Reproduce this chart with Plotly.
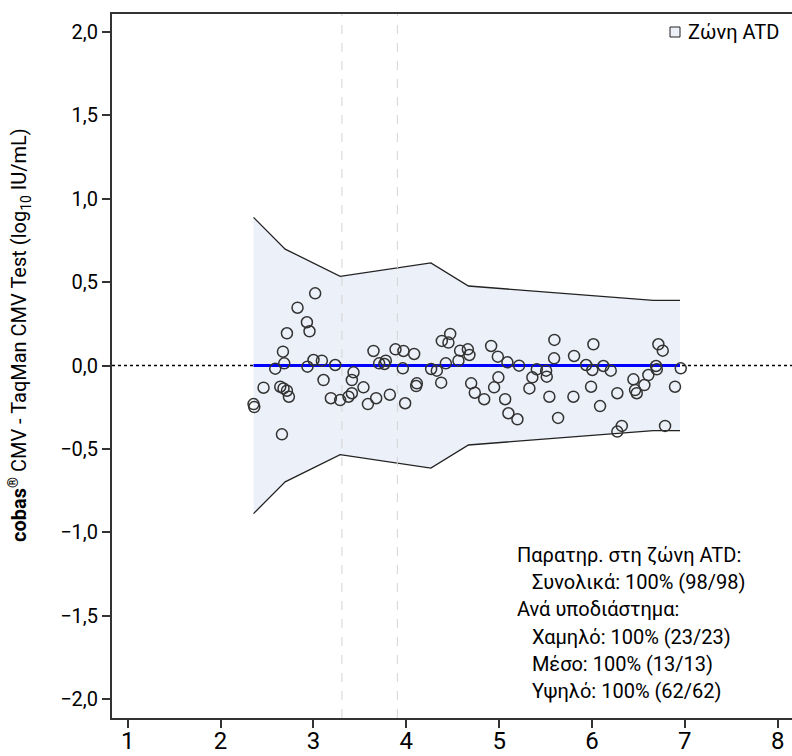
import plotly.graph_objects as go

# ---------------- data ----------------
# Low sub-range (Χαμηλό)
low_x = [3.019, 2.829, 2.930, 2.958, 2.715, 2.672, 2.686, 2.589, 2.936, 3.001,
         3.091, 3.235, 3.109, 2.463, 2.643, 2.678, 2.715, 2.736, 2.355, 2.363,
         2.661, 3.188, 3.288]
low_y = [0.432, 0.346, 0.259, 0.205, 0.193, 0.083, 0.013, -0.019, -0.007, 0.033,
         0.029, 0.003, -0.087, -0.133, -0.127, -0.137, -0.151, -0.187, -0.231, -0.249,
         -0.412, -0.196, -0.207]

# Medium sub-range (Μέσο)
mid_x = [3.378, 3.414, 3.414, 3.432, 3.539, 3.587, 3.647, 3.676, 3.708, 3.765,
         3.780, 3.823, 3.884]
mid_y = [-0.187, -0.166, -0.087, -0.041, -0.131, -0.231, 0.087, -0.196, 0.013, 0.009,
         0.029, -0.175, 0.097]

# High sub-range (Υψηλό)
high_x = [3.970, 4.085, 3.963, 3.988, 4.114, 4.107, 4.268, 4.329, 4.376, 4.426,
          4.383, 4.454, 4.473, 4.580, 4.562, 4.663, 4.680, 4.699, 4.738, 4.839,
          4.914, 4.986, 5.089, 5.215, 4.992, 4.946, 5.065, 5.100, 5.197, 5.326,
          5.358, 5.406, 5.506, 5.513, 5.595, 5.592, 5.541, 5.635, 5.807, 5.800,
          5.937, 6.015, 6.004, 6.123, 6.202, 5.990, 6.087, 6.273, 6.321, 6.273,
          6.446, 6.464, 6.482, 6.564, 6.607, 6.690, 6.698, 6.715, 6.762, 6.787,
          6.894, 6.956]
high_y = [0.087, 0.069, -0.017, -0.226, -0.107, -0.123, -0.021, -0.031, -0.103, 0.013,
          0.147, 0.137, 0.189, 0.089, 0.029, 0.097, 0.063, -0.107, -0.163, -0.202,
          0.117, 0.053, 0.019, -0.001, -0.071, -0.131, -0.202, -0.286, -0.322, -0.137,
          -0.071, -0.023, -0.031, -0.067, 0.153, 0.043, -0.187, -0.314, 0.057, -0.187,
          0.003, 0.127, -0.027, -0.003, -0.031, -0.127, -0.243, -0.166, -0.362, -0.396,
          -0.083, -0.147, -0.166, -0.117, -0.057, -0.003, -0.023, 0.127, 0.089, -0.362,
          -0.127, -0.017]

# ATD zone boundaries
zone_x = [2.355, 2.696, 3.288, 4.265, 4.670, 6.661, 6.948]
zone_upper = [0.887, 0.697, 0.534, 0.614, 0.476, 0.390, 0.390]
zone_lower = [-0.887, -0.697, -0.534, -0.614, -0.476, -0.390, -0.390]

# mean bias line (0)
bias_x = [2.355, 6.948]
bias_y = [0.0, 0.0]

# sub-range boundaries (vertical dashed lines)
range_bounds = [3.307, 3.904]

x_range = [0.831, 8.154]
y_range = [-2.111, 2.105]
x_ticks = [1, 2, 3, 4, 5, 6, 7, 8]
y_ticks = [-2.0, -1.5, -1.0, -0.5, 0.0, 0.5, 1.0, 1.5, 2.0]

legend_label = "Ζώνη ATD"
y_title = "<b>cobas</b><sup>®</sup> CMV - TaqMan CMV Test (log<sub>10</sub> IU/mL)"
stats_lines = [
    "Παρατηρ. στη ζώνη ATD:",
    "\u00a0\u00a0\u00a0Συνολικά: 100% (98/98)",
    "Ανά υποδιάστημα:",
    "\u00a0\u00a0\u00a0Χαμηλό: 100% (23/23)",
    "\u00a0\u00a0\u00a0Μέσο: 100% (13/13)",
    "\u00a0\u00a0\u00a0Υψηλό: 100% (62/62)",
]

FONT = "Roboto, 'Noto Sans', sans-serif"
ZONE_FILL = "rgb(236,240,248)"
EDGE = "#222222"

W, H = 792, 756
M_L, M_R, M_T, M_B = 112, 0, 14, 38
PLOT_H = H - M_T - M_B

fig = go.Figure()

# zone fill
fig.add_trace(go.Scatter(
    x=zone_x + zone_x[::-1], y=zone_upper + zone_lower[::-1],
    fill="toself", fillcolor=ZONE_FILL, mode="none", hoverinfo="skip",
    showlegend=False))
# zone edges
fig.add_trace(go.Scatter(x=zone_x, y=zone_upper, mode="lines",
                         line=dict(color=EDGE, width=1.3), showlegend=False))
fig.add_trace(go.Scatter(x=zone_x, y=zone_lower, mode="lines",
                         line=dict(color=EDGE, width=1.3), showlegend=False))
# sub-range boundaries
for b in range_bounds:
    fig.add_trace(go.Scatter(x=[b, b], y=y_range, mode="lines",
                             line=dict(color="#d4d4d4", width=1, dash="dash"),
                             showlegend=False, hoverinfo="skip"))
# bias line
fig.add_trace(go.Scatter(x=bias_x, y=bias_y, mode="lines",
                         line=dict(color="rgb(0,0,255)", width=3),
                         showlegend=False))
# observations
fig.add_trace(go.Scatter(
    x=low_x + mid_x + high_x, y=low_y + mid_y + high_y, mode="markers",
    marker=dict(symbol="circle-open", size=11, color="#333333",
                line=dict(width=1.5, color="#333333")),
    showlegend=False))

# dotted zero line
fig.add_shape(type="line", xref="paper", yref="y", x0=0, x1=1, y0=0, y1=0,
              line=dict(color="black", width=1.3, dash="dot"), layer="below")


def py2paper(py):
    return (H - M_B - py) / PLOT_H


def px2paper(px):
    return (px - M_L) / (W - M_L - M_R)


# legend glyph and label
fig.add_shape(type="rect", xref="paper", yref="paper",
              x0=px2paper(670), x1=px2paper(680), y0=py2paper(37), y1=py2paper(27),
              fillcolor=ZONE_FILL, line=dict(color=EDGE, width=1))
fig.add_annotation(text=legend_label, xref="paper", yref="paper",
                   x=px2paper(686), y=py2paper(32), xanchor="left", yanchor="middle",
                   showarrow=False, font=dict(family=FONT, size=20, color="black"))

# stats block, one line per annotation
first_line_y, line_pitch = 555, 27.2
for i, line in enumerate(stats_lines):
    fig.add_annotation(text=line, xref="paper", yref="paper",
                       x=px2paper(515), y=py2paper(first_line_y + i * line_pitch),
                       xanchor="left", yanchor="middle", align="left",
                       showarrow=False, font=dict(family=FONT, size=20, color="black"))

# y title
fig.add_annotation(text=y_title, xref="paper", yref="paper",
                   x=px2paper(19), y=py2paper(335), xanchor="center", yanchor="middle",
                   textangle=-90, showarrow=False,
                   font=dict(family=FONT, size=20, color="black"))

fig.update_layout(
    width=W, height=H,
    margin=dict(l=M_L, r=M_R, t=M_T, b=M_B, autoexpand=False),
    paper_bgcolor="white", plot_bgcolor="white",
    separators=",.",
    showlegend=False,
    font=dict(family=FONT, color="black"),
)
fig.update_xaxes(range=x_range, tickvals=x_ticks, ticktext=[str(t) for t in x_ticks],
                 automargin=False, ticklabelstandoff=-8,
                 showgrid=False, zeroline=False, showline=True, mirror=True,
                 linecolor="#333333", linewidth=2, ticks="outside", ticklen=8,
                 tickwidth=1.5, tickcolor="#333333",
                 tickfont=dict(family=FONT, size=24, color="black"))
fig.update_yaxes(range=y_range, tickvals=y_ticks, tickformat=".1f",
                 automargin=False,
                 showgrid=False, zeroline=False, showline=True, mirror=False,
                 linecolor="#333333", linewidth=2, ticks="outside", ticklen=8,
                 tickwidth=1.5, tickcolor="#333333",
                 tickfont=dict(family=FONT, size=20, color="black"))

fig.write_html("out.html")
